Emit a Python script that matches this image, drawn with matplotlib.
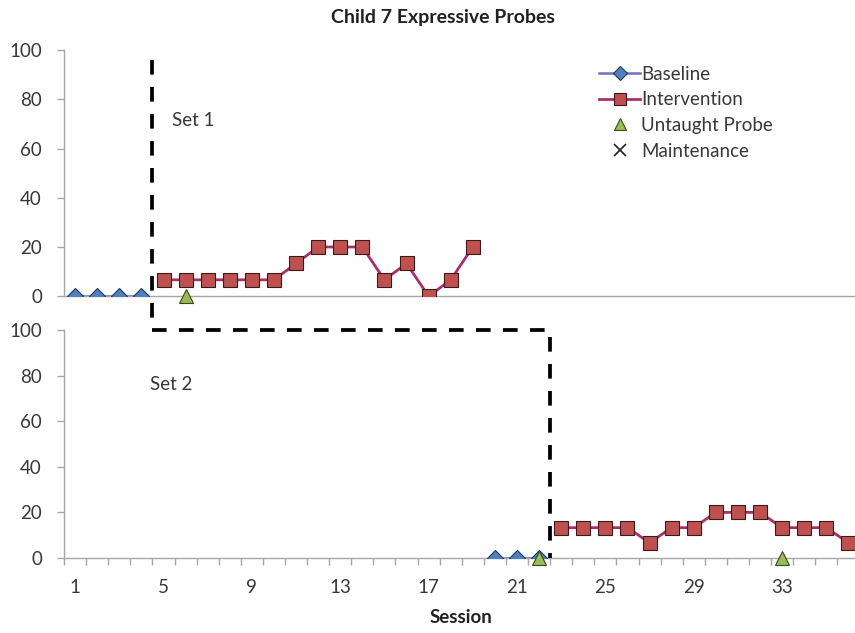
import matplotlib
matplotlib.use('Agg')
import matplotlib.pyplot as plt
from matplotlib.lines import Line2D

plt.rcParams['font.family'] = ['Lato', 'DejaVu Sans']

# Set 1 data
base1_x = [1, 2, 3, 4]
base1_y = [0, 0, 0, 0]
int1_x = list(range(5, 20))
int1_y = [6.67, 6.67, 6.67, 6.67, 6.67, 6.67, 13.3, 20, 20, 20, 6.67, 13.3, 0, 6.67, 20]
probe1_x = [6]
probe1_y = [0]

# Set 2 data
base2_x = [20, 21, 22]
base2_y = [0, 0, 0]
int2_x = list(range(23, 37))
int2_y = [13.3, 13.3, 13.3, 13.3, 6.67, 13.3, 13.3, 20, 20, 20, 13.3, 13.3, 13.3, 6.67]
probe2_x = [22, 33]
probe2_y = [0, 0]

xtick_labels = [1, 5, 9, 13, 17, 21, 25, 29, 33]
ytick_vals = [0, 20, 40, 60, 80, 100]

blue = '#4F81BD'
red = '#C0504D'
green = '#9BBB59'
base_line = '#7070C0'
int_line = '#A8306A'
grey = '#A6A6A6'
txt = '#383838'
fs = 13.5

fig = plt.figure(figsize=(8.55, 6.33), dpi=100)
ax1 = fig.add_axes([0.075, 0.532, 0.925, 0.389])
ax2 = fig.add_axes([0.075, 0.1185, 0.925, 0.3602])


def draw(ax, bx, by, ix, iy, px, py):
    ax.plot(bx, by, color=base_line, lw=1.8, marker='D', ms=8.5,
            mfc=blue, mec='#1F3A60', mew=0.8, zorder=3)
    ax.plot(ix, iy, color=int_line, lw=2, marker='s', ms=10.5,
            mfc=red, mec='#3A1A1A', mew=0.8, zorder=3)
    ax.plot(px, py, ls='none', marker='^', ms=10.5,
            mfc=green, mec='#3A4A1A', mew=0.8, zorder=4, clip_on=False)
    ax.set_xlim(0.5, 36.3)
    ax.set_ylim(0, 100)
    ax.set_yticks(ytick_vals)
    ax.tick_params(axis='y', colors=grey, labelcolor=txt, labelsize=fs, length=5, width=1, pad=11)
    for s in ['top', 'right']:
        ax.spines[s].set_visible(False)
    for s in ['left', 'bottom']:
        ax.spines[s].set_color(grey)
        ax.spines[s].set_linewidth(1)


draw(ax1, base1_x, base1_y, int1_x, int1_y, probe1_x, probe1_y)
draw(ax2, base2_x, base2_y, int2_x, int2_y, probe2_x, probe2_y)

ax1.set_xticks([])

ax2.set_xticks(xtick_labels)
ax2.set_xticklabels([str(v) for v in xtick_labels])
ax2.set_xticks([v + 0.5 for v in range(0, 36)], minor=True)
ax2.tick_params(axis='x', which='major', length=0, labelcolor=txt, labelsize=fs, pad=15)
ax2.tick_params(axis='x', which='minor', length=5, color=grey, width=1)

ax1.text(5.4, 71.5, 'Set 1', fontsize=fs, color=txt, va='center')
ax2.text(4.4, 76, 'Set 2', fontsize=fs, color=txt, va='center')

fig.text(0.518, 0.972, 'Child 7 Expressive Probes', fontsize=14, fontweight='bold',
         color='#202020', ha='center', va='center')
fig.text(0.539, 0.025, 'Session', fontsize=fs, fontweight='bold',
         color='#202020', ha='center', va='center')

# phase change line spanning both panels
fig.canvas.draw()
to_fig = fig.transFigure.inverted()
p = [ax1.transData.transform((4.5, 96)),
     ax2.transData.transform((4.5, 100)),
     ax2.transData.transform((22.5, 100)),
     ax2.transData.transform((22.5, 0))]
p = [to_fig.transform(q) for q in p]
fig.add_artist(Line2D([q[0] for q in p], [q[1] for q in p], transform=fig.transFigure,
                      color='black', lw=2.7, dashes=(3.9, 3.3), zorder=5))

handles = [
    Line2D([], [], color=base_line, lw=1.8, marker='D', ms=7, mfc=blue, mec='#1F3A60', mew=0.8),
    Line2D([], [], color=int_line, lw=2, marker='s', ms=9, mfc=red, mec='#3A1A1A', mew=0.8),
    Line2D([], [], ls='none', marker='^', ms=8, mfc=green, mec='#3A4A1A', mew=0.8),
    Line2D([], [], ls='none', marker='x', ms=8, color='#202020', mew=1.2),
]
labels = ['Baseline', 'Intervention', 'Untaught Probe', 'Maintenance']
leg = fig.legend(handles, labels, loc='upper left', bbox_to_anchor=(0.692, 0.908),
                 frameon=False, fontsize=fs, handlelength=2.2, handletextpad=0.05,
                 labelspacing=0.46, borderaxespad=0)
for t in leg.get_texts():
    t.set_color(txt)

fig.savefig('out.png', dpi=100)
